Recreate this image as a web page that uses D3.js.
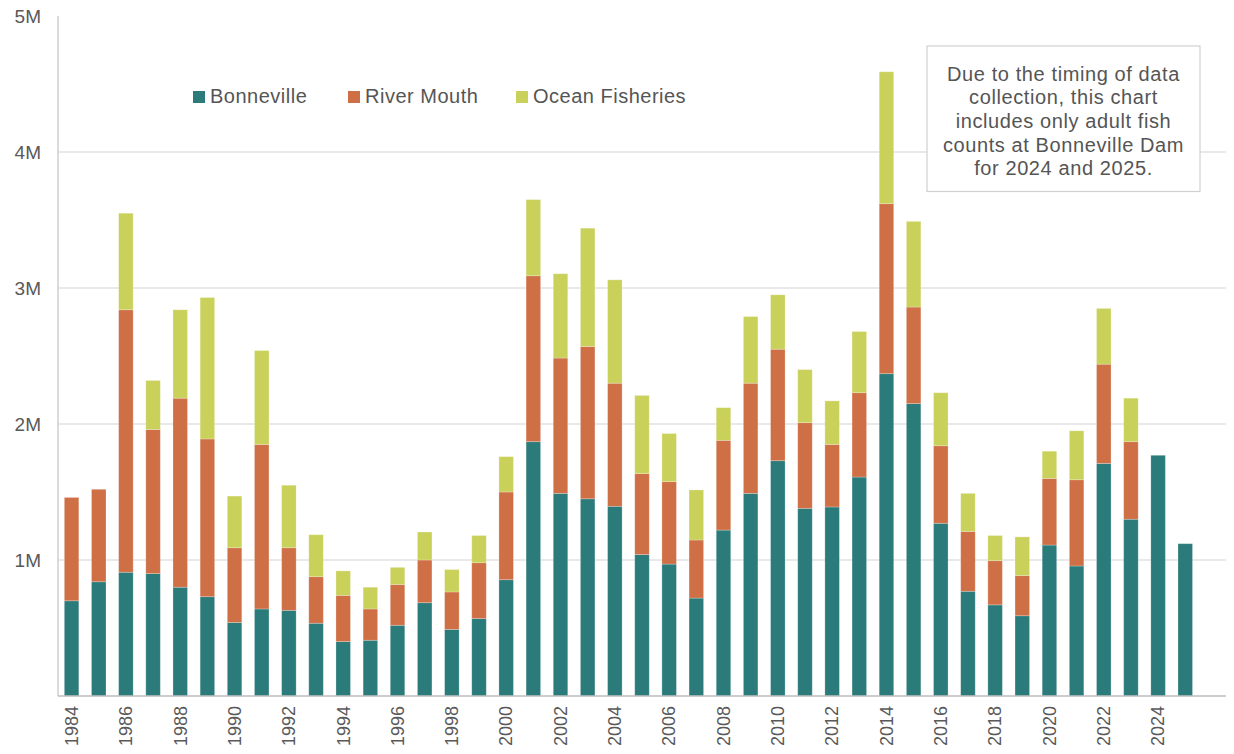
<!DOCTYPE html>
<html>
<head>
<meta charset="utf-8">
<script src="https://cdn.jsdelivr.net/npm/d3@7"></script>
<style>
  body { margin: 0; background: #fff; }
  svg { display: block; font-family: "Liberation Sans", Arial, Helvetica, sans-serif; }
  .tick-label { fill: #595959; }
</style>
</head>
<body>
<svg id="chart" width="1234" height="754"></svg>
<script>
// values in millions of fish
const years = d3.range(1984, 2026);
const bonneville = [0.70, 0.84, 0.91, 0.90, 0.80, 0.73, 0.54, 0.64, 0.63, 0.535,
  0.40, 0.41, 0.52, 0.686, 0.49, 0.57, 0.855, 1.87, 1.49, 1.45,
  1.395, 1.04, 0.97, 0.72, 1.22, 1.49, 1.73, 1.38, 1.39, 1.61,
  2.37, 2.15, 1.27, 0.77, 0.67, 0.59, 1.11, 0.956, 1.71, 1.30,
  1.77, 1.12];
const riverMouth = [0.76, 0.68, 1.93, 1.06, 1.39, 1.16, 0.55, 1.21, 0.46, 0.342,
  0.34, 0.23, 0.30, 0.314, 0.275, 0.41, 0.645, 1.22, 0.995, 1.12,
  0.905, 0.595, 0.606, 0.427, 0.66, 0.81, 0.82, 0.63, 0.46, 0.62,
  1.25, 0.71, 0.57, 0.44, 0.325, 0.295, 0.49, 0.634, 0.73, 0.57,
  0, 0];
const oceanFisheries = [0, 0, 0.71, 0.36, 0.65, 1.04, 0.38, 0.69, 0.46, 0.309,
  0.18, 0.16, 0.126, 0.206, 0.165, 0.20, 0.26, 0.56, 0.62, 0.87,
  0.76, 0.575, 0.354, 0.368, 0.24, 0.49, 0.40, 0.39, 0.32, 0.45,
  0.97, 0.63, 0.39, 0.28, 0.185, 0.285, 0.20, 0.36, 0.41, 0.32,
  0, 0];
const seriesNames = ["Bonneville", "River Mouth", "Ocean Fisheries"];
const seriesColors = ["#2a7b7a", "#cf6f45", "#c9d15b"];
const yTicks = [1, 2, 3, 4, 5];
const noteLines = ["Due to the timing of data", "collection, this chart",
  "includes only adult fish", "counts at Bonneville Dam", "for 2024 and 2025."];

const svg = d3.select("#chart");
const plotLeft = 58, plotRight = 1226, plotTop = 16, plotBottom = 696;

// one empty slot is left after 2025, like in the original
const step = (plotRight - plotLeft) / (years.length + 1);
const x = d3.scaleBand().domain(years).range([plotLeft, plotRight - step])
  .paddingInner(0.466).paddingOuter(0.233);
const y = d3.scaleLinear().domain([0, 5]).range([plotBottom, plotTop]);

// grid lines
svg.append("g").selectAll("line")
  .data(yTicks.filter(d => d < 5))
  .join("line")
  .attr("x1", plotLeft).attr("x2", plotRight)
  .attr("y1", d => y(d)).attr("y2", d => y(d))
  .attr("stroke", "#e2e2e2").attr("stroke-width", 1.5);

// y labels
svg.append("g").selectAll("text")
  .data(yTicks)
  .join("text")
  .attr("class", "tick-label")
  .attr("x", 41).attr("y", d => y(d))
  .attr("dy", "0.35em")
  .attr("text-anchor", "end")
  .attr("font-size", 19)
  .text(d => d + "M");

// stacked bars
const rows = years.map((yr, i) => ({
  year: yr,
  "Bonneville": bonneville[i],
  "River Mouth": riverMouth[i],
  "Ocean Fisheries": oceanFisheries[i]
}));
const stacked = d3.stack().keys(seriesNames)(rows);

svg.append("g").selectAll("g")
  .data(stacked)
  .join("g")
  .attr("fill", (d, i) => seriesColors[i])
  .selectAll("rect")
  .data(d => d.filter(s => s[1] - s[0] > 0))
  .join("rect")
  .attr("x", d => x(d.data.year))
  .attr("width", x.bandwidth())
  .attr("y", d => y(d[1]))
  .attr("height", d => y(d[0]) - y(d[1]))
  .attr("stroke", "#fff").attr("stroke-opacity", 0.3).attr("stroke-width", 0.8);

// axis lines
svg.append("line")
  .attr("x1", plotLeft).attr("x2", plotLeft).attr("y1", plotTop).attr("y2", plotBottom)
  .attr("stroke", "#cfcfcf").attr("stroke-width", 1.5);
svg.append("line")
  .attr("x1", plotLeft).attr("x2", plotRight).attr("y1", plotBottom).attr("y2", plotBottom)
  .attr("stroke", "#bdbdbd").attr("stroke-width", 1.5);

// x labels, every second year, rotated
svg.append("g").selectAll("text")
  .data(years.filter(d => d % 2 === 0))
  .join("text")
  .attr("class", "tick-label")
  .attr("transform", d => `translate(${x(d) + x.bandwidth() / 2},706) rotate(-90)`)
  .attr("dy", "0.35em")
  .attr("text-anchor", "end")
  .attr("font-size", 18)
  .text(d => d);

// legend
const legendX = [193, 348, 516];
const legend = svg.append("g").selectAll("g")
  .data(seriesNames)
  .join("g")
  .attr("transform", (d, i) => `translate(${legendX[i]},91)`);
legend.append("rect")
  .attr("width", 12).attr("height", 12)
  .attr("fill", (d, i) => seriesColors[i]);
legend.append("text")
  .attr("x", 17).attr("y", 12)
  .attr("font-size", 20)
  .attr("letter-spacing", 0.5)
  .attr("fill", "#555")
  .text(d => d);

// note box
const note = svg.append("g");
note.append("rect")
  .attr("x", 927).attr("y", 46).attr("width", 273).attr("height", 145.5)
  .attr("fill", "#fff").attr("stroke", "#d0d0d0").attr("stroke-width", 1.2);
note.selectAll("text")
  .data(noteLines)
  .join("text")
  .attr("x", 1063.5).attr("y", (d, i) => 80.5 + i * 23.7)
  .attr("text-anchor", "middle")
  .attr("font-size", 20)
  .attr("letter-spacing", 0.6)
  .attr("fill", "#555")
  .text(d => d);
</script>
</body>
</html>
